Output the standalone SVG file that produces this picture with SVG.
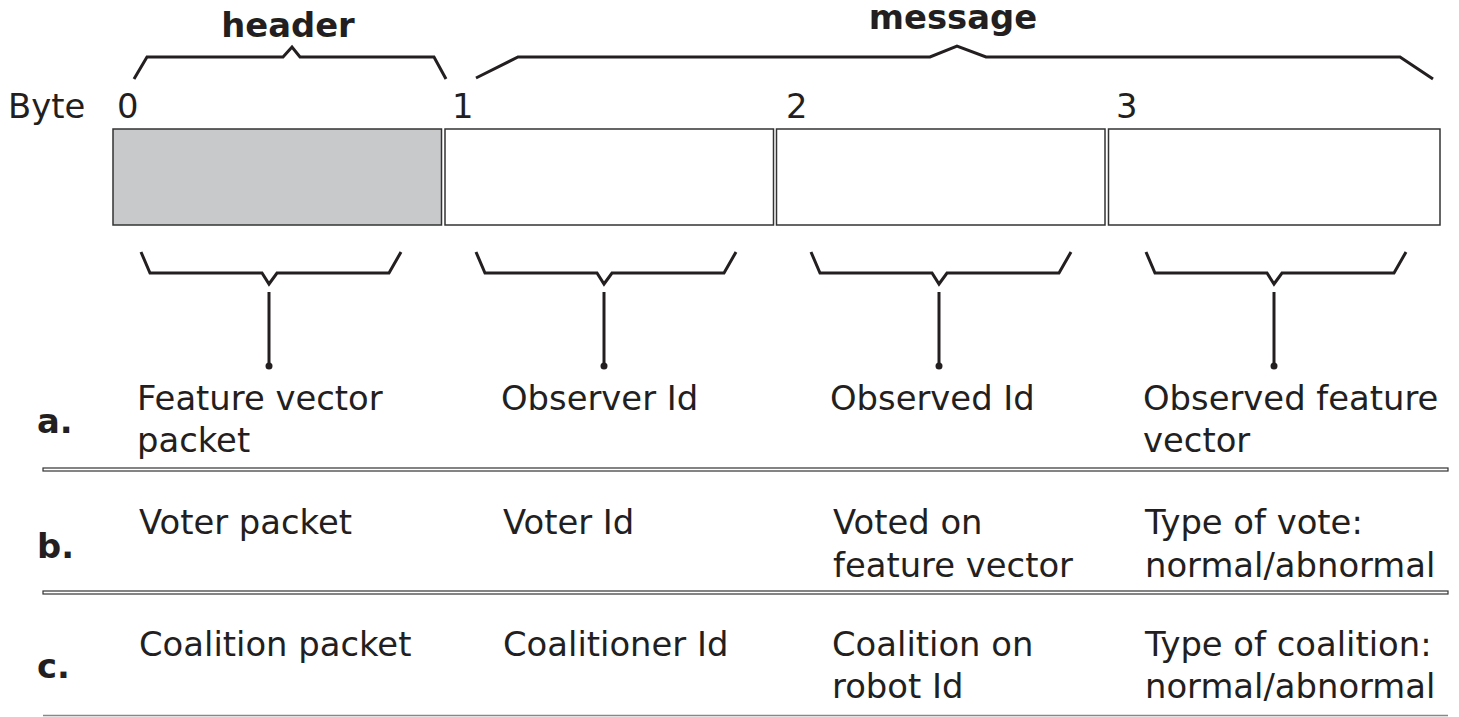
<svg xmlns="http://www.w3.org/2000/svg" width="1459" height="717" viewBox="0 0 1459 717">
<style>
text{font-family:"DejaVu Sans","Liberation Sans",sans-serif;font-size:33.8px;fill:#231f20}
.b{font-weight:bold}
.br{fill:none;stroke:#231f20;stroke-width:3;stroke-linejoin:miter}
.stem{stroke:#231f20;stroke-width:3}
.sep{fill:#fff;stroke:#333;stroke-width:1.2}
.cell{fill:#fff;stroke:#333;stroke-width:1.5}
</style>
<rect width="1459" height="717" fill="#fff"/>
<g id="top-labels">
<text class="b" x="288" y="37" text-anchor="middle" font-size="32">header</text>
<text class="b" x="953" y="29" text-anchor="middle" font-size="32">message</text>
<path class="br" d="M134,79 L147,57 L283,57 L292,47 L300,57 L434,57 L446,79"/>
<path class="br" d="M476,78 L518,57 L930,57 L957,46 L986,57 L1400,57 L1433,79"/>
<text x="8" y="118">Byte</text>
<text x="117" y="118">0</text>
<text x="452" y="118">1</text>
<text x="786" y="118">2</text>
<text x="1116" y="118">3</text>
</g>
<g id="packet">
<rect x="113" y="129" width="328.5" height="96" fill="#c8c9cb" stroke="#333" stroke-width="1.5"/>
<rect class="cell" x="445" y="129" width="328.5" height="96"/>
<rect class="cell" x="776.5" y="129" width="328.5" height="96"/>
<rect class="cell" x="1108.5" y="129" width="331.5" height="96"/>
</g>
<g id="connectors">
<path class="br" d="M141,252 L150,273 L262,273 L269,284 L277,273 L389,273 L401,252"/>
<line class="stem" x1="269" y1="292" x2="269" y2="366"/>
<circle cx="269" cy="366" r="3.5" fill="#231f20"/>
<path class="br" d="M476,252 L485,273 L597,273 L604,284 L612,273 L724,273 L736,252"/>
<line class="stem" x1="604" y1="292" x2="604" y2="366"/>
<circle cx="604" cy="366" r="3.5" fill="#231f20"/>
<path class="br" d="M811,252 L820,273 L932,273 L939,284 L947,273 L1059,273 L1071,252"/>
<line class="stem" x1="939" y1="292" x2="939" y2="366"/>
<circle cx="939" cy="366" r="3.5" fill="#231f20"/>
<path class="br" d="M1146,252 L1155,273 L1267,273 L1274,284 L1282,273 L1394,273 L1406,252"/>
<line class="stem" x1="1274" y1="292" x2="1274" y2="366"/>
<circle cx="1274" cy="366" r="3.5" fill="#231f20"/>
</g>
<g id="row-a">
<text class="b" x="37" y="433">a.</text>
<text x="137" y="410">Feature vector</text>
<text x="137" y="452">packet</text>
<text x="501" y="410">Observer Id</text>
<text x="830" y="410">Observed Id</text>
<text x="1143" y="410">Observed feature</text>
<text x="1143" y="452">vector</text>
</g>
<rect class="sep" x="43" y="468" width="1405" height="3"/>
<g id="row-b">
<text class="b" x="37" y="558">b.</text>
<text x="139" y="534">Voter packet</text>
<text x="503" y="534">Voter Id</text>
<text x="833" y="534">Voted on</text>
<text x="833" y="577">feature vector</text>
<text x="1145" y="534">Type of vote:</text>
<text x="1145" y="577">normal/abnormal</text>
</g>
<rect class="sep" x="43" y="591" width="1405" height="3"/>
<g id="row-c">
<text class="b" x="37" y="678">c.</text>
<text x="139" y="656">Coalition packet</text>
<text x="503" y="656">Coalitioner Id</text>
<text x="832" y="656">Coalition on</text>
<text x="832" y="698">robot Id</text>
<text x="1145" y="656">Type of coalition:</text>
<text x="1145" y="698">normal/abnormal</text>
</g>
<line x1="43" y1="715.5" x2="1448" y2="715.5" stroke="#888" stroke-width="1.5"/>
</svg>
